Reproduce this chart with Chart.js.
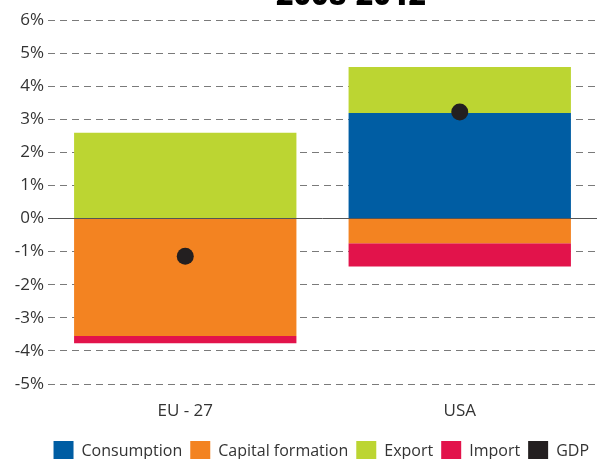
<!DOCTYPE html>
<html>
<head>
<meta charset="utf-8">
<script src="https://cdn.jsdelivr.net/npm/chart.js@4/dist/chart.umd.min.js"></script>
<style>
  html, body { margin: 0; padding: 0; background: #fff; overflow: hidden; }
  #wrap { position: absolute; left: 0; top: 0; width: 597px; height: 471px; }
</style>
</head>
<body>
<div id="wrap"><canvas id="c" width="597" height="471"></canvas></div>
<script>
const categories = ['EU - 27', 'USA'];
const consumption = [0, 3.19];
const capitalFormation = [-3.55, -0.75];
const exportValues = [2.59, 1.39];
const importValues = [-0.22, -0.70];
const gdp = [-1.14, 3.22];
const titleText = '2008-2012';

const titlePlugin = {
  id: 'cutTitle',
  afterDraw(chart) {
    const ctx = chart.ctx;
    ctx.save();
    ctx.font = '900 30px "Noto Sans"';
    ctx.fillStyle = '#000';
    ctx.textAlign = 'center';
    ctx.textBaseline = 'alphabetic';
    ctx.fillText(titleText, 351, 5);
    ctx.restore();
  }
};

const txt = '#333';
new Chart(document.getElementById('c'), {
  type: 'bar',
  data: {
    labels: categories,
    datasets: [
      { label: 'Consumption', data: consumption, backgroundColor: '#005da3', borderWidth: 0 },
      { label: 'Capital formation', data: capitalFormation, backgroundColor: '#f38321', borderWidth: 0 },
      { label: 'Export', data: exportValues, backgroundColor: '#bcd532', borderWidth: 0 },
      { label: 'Import', data: importValues, backgroundColor: '#e2134b', borderWidth: 0 },
      { type: 'line', label: 'GDP', data: gdp, stack: 'gdp', order: -1,
        showLine: false, borderWidth: 0, backgroundColor: '#231f20', borderColor: '#231f20',
        pointRadius: 8.5, pointHoverRadius: 8.5, pointBackgroundColor: '#231f20', pointBorderWidth: 0 }
    ]
  },
  options: {
    responsive: false,
    animation: false,
    devicePixelRatio: 1,
    layout: { autoPadding: false, padding: { top: 20, left: 0, right: 0, bottom: 0 } },
    datasets: { bar: { categoryPercentage: 1, barPercentage: 0.81 } },
    plugins: {
      title: { display: false },
      tooltip: { enabled: false },
      legend: {
        position: 'bottom',
        align: 'end',
        labels: {
          boxWidth: 20, boxHeight: 20, padding: 8,
          color: txt,
          font: { family: '"Open Sans"', size: 16 },
          sort: (a, b) => a.datasetIndex - b.datasetIndex
        }
      }
    },
    scales: {
      x: {
        stacked: true,
        grid: { display: false, drawTicks: false },
        border: { display: false },
        ticks: { color: txt, font: { family: '"Open Sans"', size: 17 }, padding: 17 },
        afterFit: s => { s.height = 49; }
      },
      y: {
        stacked: true,
        min: -5, max: 6,
        grid: {
          drawTicks: false,
          color: c => (c.tick && c.tick.value === 0) ? '#555' : '#7a7a7a',
          lineWidth: 1
        },
        border: { display: false, dash: c => (c.tick && c.tick.value === 0) ? [] : [7, 5] },
        ticks: {
          stepSize: 1, color: txt, padding: 4,
          font: { family: '"Open Sans"', size: 17 },
          callback: v => v + '%'
        },
        afterFit: s => { s.width = 48; }
      }
    }
  },
  plugins: [titlePlugin]
});
</script>
</body>
</html>
